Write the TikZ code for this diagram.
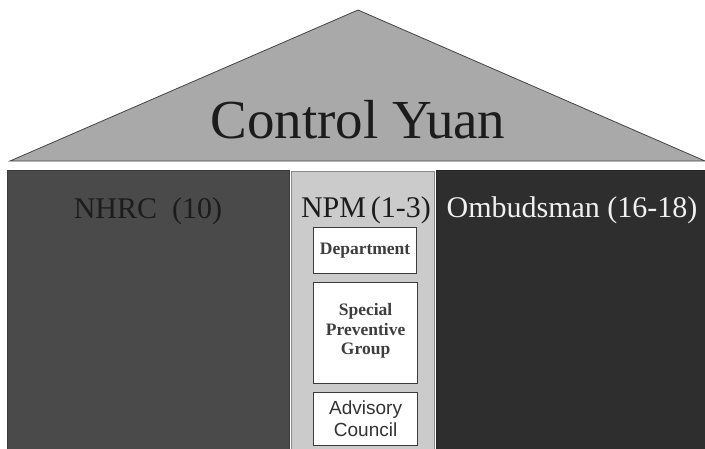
\documentclass[tikz,border=0pt]{standalone}
\usepackage{fontspec}
\setmainfont{Liberation Serif}
\newfontfamily\arialfont{Liberation Sans}
\definecolor{roofgray}{HTML}{A9A9A9}
\definecolor{roofline}{HTML}{444444}
\definecolor{nhrcgray}{HTML}{4A4A4A}
\definecolor{npmgray}{HTML}{CBCBCB}
\definecolor{npmline}{HTML}{8A8A8A}
\definecolor{ombgray}{HTML}{2E2E2E}
\definecolor{darktext}{HTML}{1C1C1C}
\definecolor{innerline}{HTML}{3C3C3C}
\tikzset{
  pillar/.style={draw=#1!80!black, line width=0.8pt, anchor=north west, inner sep=0pt},
  colhead/.style={anchor=base, inner sep=0pt, font=\fontsize{30}{33}\selectfont},
  subbox/.style={draw=innerline, fill=white, line width=1.2pt, anchor=north west, inner sep=0pt},
  subtext/.style={align=center, inner sep=0pt, font=\bfseries\fontsize{17.5}{19.5}\selectfont, text=darktext!85!white},
}
\begin{document}
\begin{tikzpicture}[x=1pt,y=-1pt]
\useasboundingbox (0,0) rectangle (705,448);
\fill[white] (0,0) rectangle (705,448);
% roof
\coordinate (roofL) at (10,161);
\coordinate (roofT) at (358,10);
\coordinate (roofR) at (705,161);
\filldraw[fill=roofgray, draw=roofline, line width=0.8pt] (roofL) -- (roofT) -- (roofR) -- cycle;
\node[anchor=base, inner sep=0pt, font=\fontsize{55}{60}\selectfont, text=darktext] (cy) at (358,138) {Control Yuan};
% pillars
\node[pillar=nhrcgray, fill=nhrcgray, minimum width=282pt, minimum height=280pt] (nhrc) at (7,170) {};
\node[pillar=npmgray, fill=npmgray, draw=npmline, minimum width=143pt, minimum height=280pt] (npm) at (291,171) {};
\node[pillar=ombgray, fill=ombgray, minimum width=272pt, minimum height=280pt] (omb) at (436,170) {};
\node[colhead, text=darktext] (nhrct) at (148,218) {NHRC\ \ (10)};
\node[colhead, text=darktext] (npmt) at (366,217) {NPM\,(1-3)};
\node[colhead, text=white!94!black] (ombt) at (572,217) {Ombudsman (16-18)};
% inner boxes
\node[subbox, minimum width=103pt, minimum height=46pt] (dep) at (313,227) {};
\node[subtext] (dept) at (dep.center) {Department};
\node[subbox, minimum width=104pt, minimum height=101pt] (spg) at (313,282) {};
\node[subtext] (spgt) at ([yshift=2pt]spg.center) {Special\\Preventive\\Group};
\node[subbox, minimum width=104pt, minimum height=53pt] (adv) at (313,392) {};
\node[subtext, font=\arialfont\fontsize{19}{22}\selectfont, text=darktext!90!white] (advt) at (adv.center) {Advisory\\Council};
\end{tikzpicture}
\end{document}
